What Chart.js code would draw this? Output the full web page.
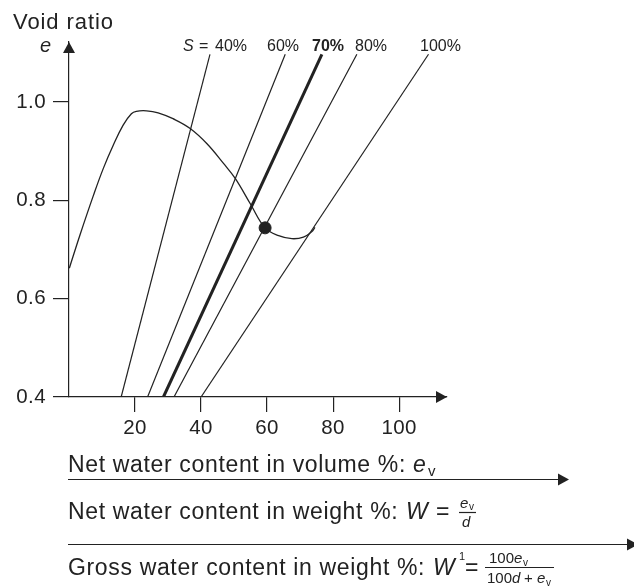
<!DOCTYPE html>
<html>
<head>
<meta charset="utf-8">
<script src="https://cdn.jsdelivr.net/npm/chart.js@4/dist/chart.umd.min.js"></script>
<style>
  html, body { margin: 0; padding: 0; background: #fff; }
  #wrap { width: 634px; height: 587px; }
</style>
</head>
<body>
<div id="wrap"><canvas id="chartVoid" width="634" height="587"></canvas></div>
<script>
// --- data ---
const xTicks = [20, 40, 60, 80, 100];
const yTicks = [0.4, 0.6, 0.8, 1.0];

// saturation lines S = 40..100 %, from e = 0.4 up to e = 1.097
const satLabels = ["40%", "60%", "70%", "80%", "100%"];
const satBottomW = [15.8, 23.8, 28.6, 31.8, 40.0];
const satTopW = [42.7, 65.5, 76.6, 87.2, 108.9];
const satBottomE = 0.4;
const satTopE = 1.097;

// compaction curve
const curveW = [0.1, 3.3, 7.4, 10.4, 13.4, 16.4, 18.9, 20.4, 23.5, 27.0, 31.5, 36.7,
  41.8, 46.8, 50.4, 55.0, 59.4, 63.5, 67.5, 71.0, 73.5, 74.5];
const curveE = [0.662, 0.729, 0.810, 0.865, 0.912, 0.953, 0.976, 0.981, 0.982, 0.978, 0.966, 0.946,
  0.915, 0.875, 0.844, 0.792, 0.744, 0.728, 0.722, 0.725, 0.736, 0.745];

// optimum point
const optW = [59.4];
const optE = [0.744];

const INK = "#222";
const FONT = "'Liberation Sans', Arial, Helvetica, sans-serif";

const satSets = satLabels.map((lab, i) => ({
  label: "S " + lab,
  data: [{ x: satBottomW[i], y: satBottomE }, { x: satTopW[i], y: satTopE }],
  showLine: true,
  borderColor: INK,
  borderWidth: lab === "70%" ? 3 : 1.2,
  pointRadius: 0,
  tension: 0,
}));

const curveSet = {
  label: "curve",
  data: curveW.map((w, i) => ({ x: w, y: curveE[i] })),
  showLine: true,
  borderColor: INK,
  borderWidth: 1.3,
  pointRadius: 0,
  tension: 0.4,
};

const optSet = {
  label: "optimum",
  data: optW.map((w, i) => ({ x: w, y: optE[i] })),
  backgroundColor: INK,
  borderColor: INK,
  pointRadius: 6,
  showLine: false,
};

function fitText(ctx, str, x, y, width) {
  ctx.letterSpacing = "0px";
  const w = ctx.measureText(str).width;
  const sp = (width - w) / str.length;
  ctx.letterSpacing = sp + "px";
  ctx.fillText(str, x, y);
  ctx.letterSpacing = "0px";
  return sp;
}

function arrowRight(ctx, x0, x1, y, head) {
  ctx.beginPath();
  ctx.moveTo(x0, y);
  ctx.lineTo(x1 - head, y);
  ctx.stroke();
  ctx.beginPath();
  ctx.moveTo(x1, y);
  ctx.lineTo(x1 - head, y - 6);
  ctx.lineTo(x1 - head, y + 6);
  ctx.closePath();
  ctx.fill();
}

const spacingPlugin = {
  id: "spacing",
  beforeDraw(chart) { chart.ctx.letterSpacing = "0.4px"; },
  afterDatasetsDraw(chart) { chart.ctx.letterSpacing = "0px"; },
};

const decoPlugin = {
  id: "deco",
  afterDraw(chart) {
    const ctx = chart.ctx;
    const { left, right, top, bottom } = chart.chartArea;
    ctx.save();
    ctx.fillStyle = INK;
    ctx.strokeStyle = INK;
    ctx.lineWidth = 1.2;

    // axis arrows
    ctx.beginPath();
    ctx.moveTo(left, top);
    ctx.lineTo(left - 6, top + 11);
    ctx.lineTo(left + 6, top + 11);
    ctx.closePath();
    ctx.fill();
    ctx.beginPath();
    ctx.moveTo(right, bottom);
    ctx.lineTo(right - 11, bottom - 6);
    ctx.lineTo(right - 11, bottom + 6);
    ctx.closePath();
    ctx.fill();

    ctx.textBaseline = "alphabetic";
    ctx.textAlign = "left";

    // y axis title
    ctx.font = "22px " + FONT;
    fitText(ctx, "Void ratio", 13, 29, 101);
    ctx.font = "italic 20px " + FONT;
    ctx.fillText("e", 40, 52);

    // saturation labels
    ctx.font = "italic 16px " + FONT;
    ctx.fillText("S", 183, 51);
    ctx.font = "16px " + FONT;
    ctx.fillText("=", 199, 51);
    ctx.fillText("40%", 215, 51);
    ctx.fillText("60%", 267, 51);
    ctx.fillText("80%", 355, 51);
    ctx.fillText("100%", 420, 51);
    ctx.font = "bold 16px " + FONT;
    ctx.fillText("70%", 312, 51);

    // bottom scales
    ctx.font = "23px " + FONT;
    const sp = fitText(ctx, "Net water content in volume %: ", 68, 472, 345);
    ctx.font = "italic 23px " + FONT;
    ctx.fillText("e", 413, 472);
    ctx.font = "15px " + FONT;
    ctx.fillText("v", 428, 476);
    arrowRight(ctx, 68, 569, 479.5, 11);

    ctx.font = "23px " + FONT;
    ctx.letterSpacing = sp + "px";
    ctx.fillText("Net water content in weight %: ", 68, 519);
    ctx.letterSpacing = "0px";
    ctx.font = "italic 23px " + FONT;
    ctx.fillText("W", 406, 519);
    ctx.font = "23px " + FONT;
    ctx.fillText("=", 436, 519);
    ctx.font = "italic 15px " + FONT;
    ctx.fillText("e", 460, 508);
    ctx.font = "10px " + FONT;
    ctx.fillText("v", 469, 510);
    ctx.beginPath();
    ctx.moveTo(459, 512.5);
    ctx.lineTo(476, 512.5);
    ctx.stroke();
    ctx.font = "italic 15px " + FONT;
    ctx.fillText("d", 462, 527);
    arrowRight(ctx, 68, 638, 544.5, 11);

    ctx.font = "23px " + FONT;
    ctx.letterSpacing = sp + "px";
    ctx.fillText("Gross water content in weight %: ", 68, 575);
    ctx.letterSpacing = "0px";
    ctx.font = "italic 23px " + FONT;
    ctx.fillText("W", 433, 575);
    ctx.font = "11px " + FONT;
    ctx.fillText("1", 459, 560);
    ctx.font = "23px " + FONT;
    ctx.fillText("=", 465, 575);
    // numerator 100e_v
    ctx.font = "15px " + FONT;
    ctx.fillText("100", 489, 563);
    ctx.font = "italic 15px " + FONT;
    ctx.fillText("e", 514, 563);
    ctx.font = "10px " + FONT;
    ctx.fillText("v", 523, 566);
    ctx.beginPath();
    ctx.moveTo(485, 567.5);
    ctx.lineTo(554, 567.5);
    ctx.stroke();
    // denominator 100d + e_v
    ctx.font = "15px " + FONT;
    ctx.fillText("100", 487, 583);
    ctx.font = "italic 15px " + FONT;
    ctx.fillText("d", 512, 583);
    ctx.font = "15px " + FONT;
    ctx.fillText("+", 524, 583);
    ctx.font = "italic 15px " + FONT;
    ctx.fillText("e", 537, 583);
    ctx.font = "10px " + FONT;
    ctx.fillText("v", 546, 586);

    ctx.restore();
  },
};

const ctx = document.getElementById("chartVoid");
new Chart(ctx, {
  type: "scatter",
  data: { datasets: [...satSets, curveSet, optSet] },
  options: {
    responsive: false,
    animation: false,
    layout: { padding: { left: 0, top: 42, right: 187, bottom: 150 } },
    plugins: { legend: { display: false }, tooltip: { enabled: false } },
    elements: { line: { fill: false } },
    scales: {
      x: {
        type: "linear",
        min: 0,
        max: 114.5,
        afterFit(s) { s.height = 40; },
        afterBuildTicks(s) { s.ticks = xTicks.map(v => ({ value: v })); },
        grid: { drawOnChartArea: false, drawTicks: true, tickLength: 15, color: INK, tickColor: INK, lineWidth: 1.2 },
        border: { display: true, color: INK, width: 1.2 },
        ticks: { color: INK, padding: 4, font: { family: FONT, size: 20.5 }, callback: v => String(v) },
      },
      y: {
        type: "linear",
        min: 0.4,
        max: 1.122,
        afterFit(s) { s.width = 69; },
        afterBuildTicks(s) { s.ticks = yTicks.map(v => ({ value: v })); },
        grid: { drawOnChartArea: false, drawTicks: true, tickLength: 16, color: INK, tickColor: INK, lineWidth: 1.2 },
        border: { display: true, color: INK, width: 1.2 },
        ticks: { color: INK, padding: 7, font: { family: FONT, size: 20.5 }, callback: v => v.toFixed(1) },
      },
    },
  },
  plugins: [spacingPlugin, decoPlugin],
});
</script>
</body>
</html>
